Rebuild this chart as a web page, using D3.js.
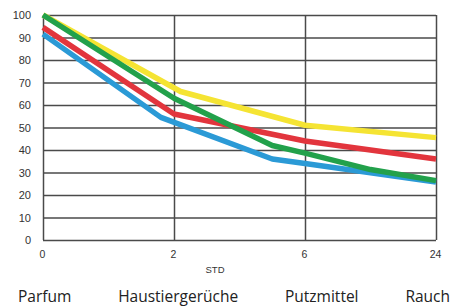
<!DOCTYPE html>
<html>
<head>
<meta charset="utf-8">
<script src="https://cdn.jsdelivr.net/npm/d3@7"></script>
<style>
  body { margin: 0; background: #fff; }
  svg { display: block; }
</style>
</head>
<body>
<svg width="453" height="307"></svg>
<script>
  // hours on the x axis (shown as equally spaced categories)
  let hours = [0, 2, 6, 24];
  let yTicks = [0, 10, 20, 30, 40, 50, 60, 70, 80, 90, 100];
  let legendNames = ["Parfum", "Haustiergerüche", "Putzmittel", "Rauch"];

  // each series: [hour, value]
  let yellowLine = [[0, 100], [2.2, 66], [6, 51], [24, 45.5]];
  let redLine = [[0, 94.5], [2, 56], [6, 44], [24, 36]];
  let blueLine = [[0, 91.5], [1.8, 54.5], [5, 36], [6, 34], [24, 25.8]];
  let greenLine = [[0, 100], [2, 63], [5, 42], [6, 38.6], [15, 31.3], [24, 26.4]];

  let series = [
    { values: yellowLine, color: "#f5e433" },
    { values: redLine, color: "#e2353d" },
    { values: blueLine, color: "#2b9ad6" },
    { values: greenLine, color: "#22a14b" }
  ];

  let plotLeft = 43, plotRight = 436, plotTop = 15, plotBottom = 240;

  let svg = d3.select("svg");

  let xPoint = d3.scalePoint()
      .domain(hours)
      .range([plotLeft, plotRight]);

  // piecewise scale so in-between hours fall between the category lines
  let x = d3.scaleLinear()
      .domain(hours)
      .range(hours.map((h) => xPoint(h)));

  let y = d3.scaleLinear()
      .domain([0, 100])
      .range([plotBottom, plotTop]);

  // horizontal grid + y labels
  let yAxis = svg.append("g")
      .attr("transform", `translate(${plotLeft},0)`)
      .call(d3.axisLeft(y).tickValues(yTicks).tickSize(-(plotRight - plotLeft)).tickPadding(12));
  yAxis.select(".domain").remove();
  yAxis.selectAll("line")
      .attr("stroke", "#4a4a4a")
      .attr("stroke-width", 1.5);
  yAxis.selectAll("text")
      .attr("fill", "#333")
      .style("font", "11px 'Liberation Sans', Arial, sans-serif");

  // vertical grid + x labels
  let xAxis = svg.append("g")
      .attr("transform", `translate(0,${plotBottom})`)
      .call(d3.axisBottom(xPoint).tickSize(-(plotBottom - plotTop)).tickPadding(11));
  xAxis.select(".domain").remove();
  xAxis.selectAll("line")
      .attr("stroke", "#4a4a4a")
      .attr("stroke-width", 1.5);
  xAxis.selectAll("text")
      .attr("fill", "#333")
      .attr("dx", -1)
      .style("font", "10.5px 'Liberation Sans', Arial, sans-serif");

  svg.append("text")
      .attr("x", 215)
      .attr("y", 273)
      .attr("text-anchor", "middle")
      .attr("fill", "#333")
      .style("font", "9.5px 'Liberation Sans', Arial, sans-serif")
      .text("STD");

  let line = d3.line()
      .x((d) => x(d[0]))
      .y((d) => y(d[1]));

  svg.selectAll("path.series")
      .data(series)
    .enter().append("path")
      .attr("class", "series")
      .attr("d", (d) => line(d.values))
      .attr("fill", "none")
      .attr("stroke", (d) => d.color)
      .attr("stroke-width", 5.5)
      .attr("stroke-linejoin", "round");

  // legend words, spread like justified text
  let legend = svg.append("g")
      .style("font", "15.5px 'Open Sans', sans-serif")
      .attr("fill", "#222");
  let words = legend.selectAll("text")
      .data(legendNames)
    .enter().append("text")
      .attr("y", 302)
      .text((d) => d);
  let widths = [];
  words.each(function () { widths.push(this.getComputedTextLength()); });
  let startX = 18, endX = 450;
  let gap = (endX - startX - d3.sum(widths)) / (legendNames.length - 1);
  let pos = startX;
  words.attr("x", (d, i) => {
    let p = pos;
    pos += widths[i] + gap;
    return p;
  });
</script>
</body>
</html>
